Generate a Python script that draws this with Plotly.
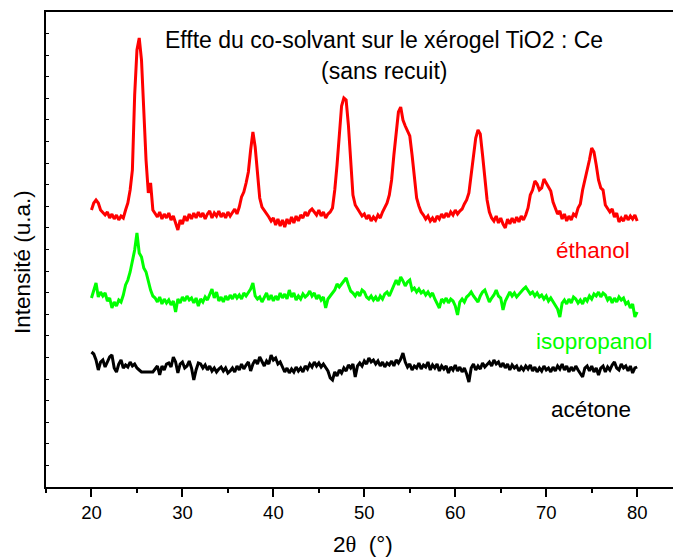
import numpy as np
import plotly.graph_objects as go

# XRD scan grid (degrees 2-theta)
SCAN_START = 20.0
SCAN_STEP = 0.25

# Stacked diffractograms, arbitrary units (one row = 2 degrees)
ethanol = [
    277, 284, 287, 284, 277, 275, 272, 275,
    269, 273, 268, 272, 267, 271, 269, 277,
    284, 297, 317, 392, 437, 449, 427, 377,
    327, 294, 304, 277, 274, 270, 275, 268,
    273, 269, 274, 267, 271, 265, 257, 267,
    263, 271, 266, 273, 268, 274, 269, 275,
    270, 274, 268, 273, 276, 269, 274, 271,
    276, 270, 274, 269, 275, 271, 274, 278,
    273, 280, 290, 295, 304, 315, 337, 355,
    340, 311, 289, 280, 277, 273, 270, 266,
    269, 262, 268, 261, 267, 260, 268, 263,
    270, 264, 271, 266, 272, 269, 275, 271,
    276, 278, 275, 272, 277, 271, 275, 269,
    273, 275, 279, 297, 322, 357, 381, 389,
    387, 362, 322, 292, 282, 278, 275, 271,
    273, 268, 272, 266, 270, 267, 272, 269,
    275, 279, 284, 292, 307, 332, 357, 375,
    380, 367, 361, 355, 351, 332, 307, 289,
    281, 275, 272, 268, 271, 266, 269, 265,
    271, 268, 273, 269, 274, 270, 275, 272,
    277, 273, 276, 278, 283, 287, 294, 312,
    332, 349, 357, 353, 332, 307, 287, 275,
    269, 266, 271, 264, 269, 263, 259, 268,
    263, 269, 264, 270, 265, 271, 267, 272,
    279, 292, 297, 306, 303, 297, 299, 308,
    304, 300, 296, 285, 278, 273, 276, 268,
    273, 266, 271, 267, 273, 271, 279, 283,
    297, 307, 315, 327, 339, 335, 322, 307,
    299, 297, 282, 279, 275, 278, 270, 274,
    265, 269, 266, 272, 267, 271, 268, 272,
    266,
]

isopropanol = [
    189, 197, 204, 190, 195, 191, 194, 186,
    189, 179, 185, 181, 187, 185, 192, 202,
    207, 215, 225, 237, 254, 234, 230, 219,
    215, 205, 197, 191, 189, 185, 190, 183,
    188, 184, 187, 182, 186, 175, 188, 184,
    190, 186, 191, 187, 189, 184, 189, 181,
    188, 185, 190, 187, 192, 198, 189, 195,
    186, 190, 185, 191, 187, 192, 188, 193,
    189, 192, 188, 194, 191, 195, 198, 204,
    191, 188, 190, 185, 189, 194, 187, 192,
    186, 191, 187, 194, 189, 193, 188, 197,
    190, 194, 187, 191, 188, 193, 190, 192,
    196, 191, 194, 188, 192, 187, 190, 179,
    188, 191, 193, 197, 203, 200, 203, 206,
    209, 202, 196, 194, 191, 195, 191, 197,
    195, 190, 188, 191, 187, 190, 186, 191,
    188, 193, 195, 191, 197, 201, 207, 202,
    210, 206, 201, 205, 207, 197, 199, 195,
    198, 194, 196, 192, 195, 191, 194, 188,
    183, 179, 188, 185, 189, 184, 188, 186,
    181, 172, 185, 188, 185, 190, 192, 195,
    191, 188, 185, 191, 195, 197, 190, 185,
    189, 192, 197, 191, 189, 177, 186, 190,
    195, 191, 194, 190, 193, 196, 198, 200,
    197, 193, 195, 191, 194, 190, 192, 188,
    191, 186, 189, 185, 182, 178, 170, 184,
    187, 183, 188, 184, 190, 188, 184, 187,
    183, 189, 186, 191, 188, 193, 191, 195,
    190, 194, 192, 187, 190, 184, 189, 185,
    190, 187, 189, 183, 185, 179, 183, 170,
    175,
]

# None = points missing from the acetone scan (line bridges the gap)
acetone = [
    135, 133, 127, 117, 125, 127, 120, 125,
    130, 132, 119, 115, 123, 127, 119, 122,
    120, 125, 121, 123, 119, 117, 115, None,
    None, None, None, 115, 118, 121, 112, 121,
    117, 123, 124, 120, 130, 125, 114, 123,
    125, 119, 121, 126, 119, 107, 117, 124,
    123, 119, 122, 117, 121, 116, 119, 115,
    118, 120, 116, 119, 114, 116, 119, 115,
    121, 117, 123, 118, 122, 125, 116, 123,
    127, 123, 130, 125, 121, 126, 123, 132,
    127, 129, 123, 125, 120, 115, 119, 114,
    118, 115, 120, 116, 119, 115, 121, 118,
    123, 120, 125, 121, 124, 120, 123, 119,
    116, 109, 107, 115, 111, 117, 114, 119,
    116, 122, 119, 123, 110, 121, 124, 121,
    126, 123, 129, 125, 127, 123, 126, 121,
    125, 120, 124, 122, 126, 121, 127, 124,
    128, 134, 125, 120, 123, 117, 121, 119,
    124, 118, 122, 120, 125, 117, 122, 119,
    123, 116, 121, 118, 121, 114, 120, 117,
    122, 116, 120, 115, 119, 113, 105, 119,
    123, 117, 121, 118, 124, 120, 123, 125,
    121, 127, 123, 125, 120, 124, 119, 123,
    117, 122, 119, 121, 116, 120, 117, 121,
    118, 122, 116, 120, 115, 119, 116, 121,
    117, 119, 115, 120, 116, 121, 118, 123,
    117, 121, 115, 120, 116, 121, 117, 113,
    110, 119, 121, 116, 121, 115, 119, 112,
    119, 121, 115, 120, 117, 122, 125, 119,
    117, 123, 119, 121, 116, 121, 114, 119,
    120,
]

series_names = ["éthanol", "isopropanol", "acétone"]
series_values = [ethanol, isopropanol, acetone]
series_colors = ["#FF0000", "#00FF00", "#000000"]

# label anchor positions (2-theta, intensity)
label_x = [75.1, 75.3, 74.95]
label_y = [237, 146, 78]

title_lines = ["Effte du co-solvant sur le xérogel TiO2 : Ce", "(sans recuit)"]

FONT = "Liberation Sans, Arial, sans-serif"

fig = go.Figure()
for name, vals, color in zip(series_names, series_values, series_colors):
    two_theta = SCAN_START + SCAN_STEP * np.arange(len(vals))
    fig.add_trace(go.Scatter(
        x=two_theta, y=vals, mode="lines", name=name,
        line=dict(color=color, width=3),
        connectgaps=True, showlegend=False,
    ))

annotations = []
for name, color, lx, ly in zip(series_names, series_colors, label_x, label_y):
    annotations.append(dict(
        x=lx, y=ly, xref="x", yref="y", text=name, showarrow=False,
        xanchor="center", yanchor="middle",
        font=dict(family=FONT, size=22.5, color=color),
    ))

annotations.append(dict(
    x=52.2, y=447, xref="x", yref="y", text=title_lines[0], showarrow=False,
    xanchor="center", yanchor="middle", font=dict(family=FONT, size=23, color="black"),
))
annotations.append(dict(
    x=52.2, y=416.5, xref="x", yref="y", text=title_lines[1], showarrow=False,
    xanchor="center", yanchor="middle", font=dict(family=FONT, size=23, color="black"),
))
# axis titles
annotations.append(dict(
    x=-0.0383, y=225, xref="paper", yref="y", text="Intensité (u.a.)", showarrow=False,
    textangle=-90, xanchor="center", yanchor="middle",
    font=dict(family=FONT, size=22.5, color="black"),
))
annotations.append(dict(
    x=49.9, y=-0.122, xref="x", yref="paper",
    text="2<span style=\"font-family:'Liberation Serif'\">θ</span>  (°)",
    showarrow=False, xanchor="center", yanchor="middle",
    font=dict(family=FONT, size=22.5, color="black"),
))

fig.update_layout(
    width=673, height=559,
    margin=dict(l=46, r=0, t=12, b=72),
    paper_bgcolor="white", plot_bgcolor="white",
    font=dict(family=FONT, color="black"),
    annotations=annotations,
    xaxis=dict(
        range=[15, 83.94], showline=True, linecolor="black", linewidth=1.5,
        mirror=True, ticks="outside", ticklen=8, tickwidth=1.5, tickcolor="black",
        tick0=0, dtick=10, showgrid=False, zeroline=False,
        tickfont=dict(family=FONT, size=18.5, color="black"),
        minor=dict(dtick=5, tick0=0, ticks="outside", ticklen=4, tickwidth=1.5,
                   tickcolor="black", showgrid=False),
    ),
    yaxis=dict(
        range=[0, 475], showline=True, linecolor="black", linewidth=1.5,
        ticks="inside", ticklen=3, tickwidth=1, tickcolor="black",
        tick0=0, dtick=475 / 22, showticklabels=False,
        showgrid=False, zeroline=False,
    ),
)

fig.write_html("out.html")
